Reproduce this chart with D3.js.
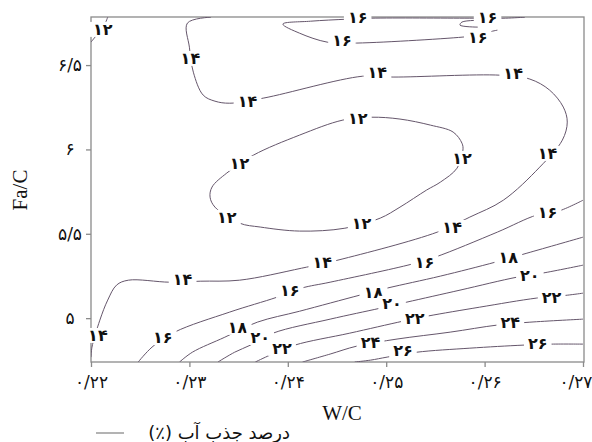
<!DOCTYPE html>
<html><head><meta charset="utf-8">
<script src="https://cdn.jsdelivr.net/npm/d3@7/dist/d3.min.js"></script>
<style>body{margin:0;background:#fff;} svg{display:block;}</style>
</head><body>
<script>
// ---- data (W/C, Fa/C) ----
const xTicks = [0.22, 0.23, 0.24, 0.25, 0.26, 0.27];
const xTickLabels = ["۰/۲۲", "۰/۲۳", "۰/۲۴", "۰/۲۵", "۰/۲۶", "۰/۲۷"];
const yTicks = [5, 5.5, 6, 6.5];
const yTickLabels = ["۵", "۵/۵", "۶", "۶/۵"];
const levelLabels = {12:"۱۲",14:"۱۴",16:"۱۶",18:"۱۸",20:"۲۰",22:"۲۲",24:"۲۴",26:"۲۶"};

const c12corner = [[0.2200,6.636],[0.2205,6.672],[0.2212,6.719],[0.2217,6.784]];
const c12loop = [[0.2338,5.860],[0.2365,5.966],[0.2412,6.085],[0.2456,6.174],[0.2485,6.191],[0.2514,6.180],[0.2545,6.144],[0.2568,6.103],[0.2577,6.037],[0.2578,5.996],[0.2572,5.889],[0.2555,5.806],[0.2541,5.759],[0.2514,5.658],[0.2494,5.593],[0.2458,5.533],[0.2412,5.516],[0.2372,5.540],[0.2351,5.563],[0.2326,5.658],[0.2321,5.717],[0.2323,5.777]];
const c14 = [[0.2322,6.784],[0.2298,6.749],[0.2300,6.606],[0.2304,6.458],[0.2314,6.322],[0.2326,6.286],[0.2341,6.274],[0.2375,6.304],[0.2476,6.434],[0.2507,6.429],[0.2616,6.440],[0.2646,6.417],[0.2666,6.352],[0.2680,6.251],[0.2684,6.162],[0.2679,6.055],[0.2656,5.895],[0.2619,5.699],[0.2585,5.599],[0.2552,5.510],[0.2451,5.344],[0.2414,5.296],[0.2351,5.225],[0.2311,5.219],[0.2280,5.213],[0.2238,5.225],[0.2226,5.196],[0.2217,5.107],[0.2209,4.988],[0.2201,4.828],[0.2200,4.769]];
const c16top = [[0.2641,6.784],[0.2621,6.778],[0.2585,6.778],[0.2485,6.778],[0.2460,6.772],[0.2423,6.760],[0.2395,6.743],[0.2412,6.689],[0.2440,6.636],[0.2465,6.630],[0.2578,6.666],[0.2595,6.678],[0.2608,6.701],[0.2613,6.707]];
const c16hook = [[0.2600,6.766],[0.2577,6.755],[0.2575,6.737],[0.2593,6.725]];
const c16 = [[0.2248,4.740],[0.2262,4.828],[0.2285,4.917],[0.2341,5.036],[0.2389,5.124],[0.2414,5.178],[0.2443,5.213],[0.2526,5.320],[0.2550,5.362],[0.2613,5.510],[0.2653,5.611],[0.2675,5.634],[0.2700,5.699]];
const c18 = [[0.2290,4.740],[0.2303,4.798],[0.2336,4.887],[0.2369,4.976],[0.2412,5.041],[0.2473,5.136],[0.2501,5.178],[0.2555,5.249],[0.2611,5.332],[0.2643,5.385],[0.2700,5.480]];
const c20 = [[0.2329,4.740],[0.2346,4.798],[0.2362,4.840],[0.2385,4.911],[0.2443,4.994],[0.2494,5.059],[0.2521,5.095],[0.2575,5.166],[0.2633,5.243],[0.2659,5.267],[0.2700,5.314]];
const c22 = [[0.2367,4.740],[0.2382,4.781],[0.2407,4.840],[0.2463,4.911],[0.2517,4.982],[0.2542,5.012],[0.2595,5.065],[0.2653,5.119],[0.2684,5.136],[0.2700,5.148]];
const c24 = [[0.2415,4.740],[0.2443,4.787],[0.2470,4.834],[0.2511,4.876],[0.2565,4.917],[0.2613,4.959],[0.2646,4.976],[0.2700,4.994]];
const c26 = [[0.2468,4.740],[0.2484,4.751],[0.2501,4.769],[0.2531,4.798],[0.2585,4.822],[0.2639,4.840],[0.2668,4.846],[0.2700,4.846]];

const labels12 = [[0.2212,6.713],[0.2351,5.919],[0.2471,6.186],[0.2577,5.948],[0.2475,5.563],[0.2338,5.599]];
const labels14 = [[0.2301,6.541],[0.2359,6.286],[0.2491,6.458],[0.2629,6.452],[0.2664,5.978],[0.2567,5.539],[0.2435,5.332],[0.2293,5.231],[0.2207,4.899]];
const labels16 = [[0.2471,6.784],[0.2603,6.784],[0.2455,6.648],[0.2593,6.666],[0.2273,4.887],[0.2402,5.166],[0.2539,5.332],[0.2664,5.628]];
const labels18 = [[0.2349,4.947],[0.2487,5.154],[0.2624,5.362]];
const labels20 = [[0.2372,4.887],[0.2506,5.089],[0.2646,5.255]];
const labels22 = [[0.2394,4.822],[0.2529,5.000],[0.2668,5.124]];
const labels24 = [[0.2484,4.858],[0.2626,4.976]];
const labels26 = [[0.2517,4.810],[0.2654,4.852]];

const legendText = "درصد جذب آب (٪)";

// ---- build ----
const contours = [
  {level:12, pts:c12corner, closed:false},
  {level:12, pts:c12loop, closed:true},
  {level:14, pts:c14, closed:false},
  {level:16, pts:c16top, closed:false},
  {level:16, pts:c16hook, closed:false},
  {level:16, pts:c16, closed:false},
  {level:18, pts:c18, closed:false},
  {level:20, pts:c20, closed:false},
  {level:22, pts:c22, closed:false},
  {level:24, pts:c24, closed:false},
  {level:26, pts:c26, closed:false}
];
const labelSets = [[12,labels12],[14,labels14],[16,labels16],[18,labels18],[20,labels20],[22,labels22],[24,labels24],[26,labels26]];
const labels = labelSets.flatMap(([lv, arr]) => arr.map(p => ({level:lv, w:p[0], f:p[1]})));

const W = 592, H = 442;
const x = d3.scaleLinear().domain([0.22, 0.27]).range([91, 583]);
const y = d3.scaleLinear().domain([4.74, 6.785]).range([362, 17]);

const svg = d3.select("body").append("svg").attr("width", W).attr("height", H);

svg.append("defs").append("clipPath").attr("id","clip")
  .append("rect").attr("x",91).attr("y",17).attr("width",493).attr("height",345);

// frame
svg.append("rect").attr("x",91).attr("y",17).attr("width",493).attr("height",345)
  .attr("fill","none").attr("stroke","#8a8a8a").attr("stroke-width",1.3);

// axes
const ax = svg.append("g").attr("transform","translate(0,362)")
  .call(d3.axisBottom(x).tickValues(xTicks).tickSize(5).tickPadding(9)
    .tickFormat((d,i)=>xTickLabels[i]));
const ay = svg.append("g").attr("transform","translate(91,0)")
  .call(d3.axisLeft(y).tickValues(yTicks).tickSize(5).tickPadding(5)
    .tickFormat((d,i)=>yTickLabels[i]));
[ax, ay].forEach(g => {
  g.select(".domain").remove();
  g.selectAll("line").attr("stroke","#8a8a8a").attr("stroke-width",1.3);
  g.selectAll("text").attr("fill","#111").style("font-family","'DejaVu Sans', sans-serif").style("font-size","17px");
});
ay.selectAll("text").attr("text-anchor","middle").attr("x",-21);
ax.selectAll(".tick").filter((d,i)=>i===xTicks.length-1).select("text")
  .attr("text-anchor","end").attr("x",9);

// contour lines
const lineOpen = d3.line().x(d=>x(d[0])).y(d=>y(d[1])).curve(d3.curveCatmullRom.alpha(0.5));
const lineClosed = d3.line().x(d=>x(d[0])).y(d=>y(d[1])).curve(d3.curveCatmullRomClosed.alpha(0.5));
const cg = svg.append("g").attr("clip-path","url(#clip)");
cg.selectAll("path").data(contours).join("path")
  .attr("d", d => (d.closed ? lineClosed : lineOpen)(d.pts))
  .attr("fill","none").attr("stroke","#65566b").attr("stroke-width",1);

// labels with white gaps
const lg = svg.append("g");
const lab = lg.selectAll("g").data(labels).join("g")
  .attr("transform", d => `translate(${x(d.w)},${y(d.f)})`);
const txt = lab.append("text")
  .attr("text-anchor","middle").attr("dy","0.36em")
  .style("font-family","'DejaVu Sans', sans-serif").style("font-size","16px")
  .style("font-weight","bold")
  .attr("fill","#111").text(d => levelLabels[d.level]);
txt.each(function(){
  const b = this.getBBox();
  d3.select(this.parentNode).insert("rect","text")
    .attr("x", b.x-4).attr("y", b.y+2).attr("width", b.width+8).attr("height", b.height-4)
    .attr("fill","#fff");
});

// titles
svg.append("text").attr("x",342).attr("y",420).attr("text-anchor","middle")
  .style("font-family","'Liberation Serif', serif").style("font-size","21px").attr("fill","#111")
  .text("W/C");
svg.append("text").attr("transform","translate(27,190) rotate(-90)").attr("text-anchor","middle")
  .style("font-family","'Liberation Serif', serif").style("font-size","21px").attr("fill","#111")
  .text("Fa/C");

// legend
svg.append("line").attr("x1",96).attr("x2",124).attr("y1",433).attr("y2",433)
  .attr("stroke","#8a8a8a").attr("stroke-width",1.3);
svg.append("text").attr("x",290).attr("y",439).attr("direction","rtl").style("direction","rtl")
  .attr("text-anchor","start")
  .style("font-family","'DejaVu Sans', sans-serif").style("font-size","18px").attr("fill","#111")
  .text(legendText);
</script>
</body></html>
